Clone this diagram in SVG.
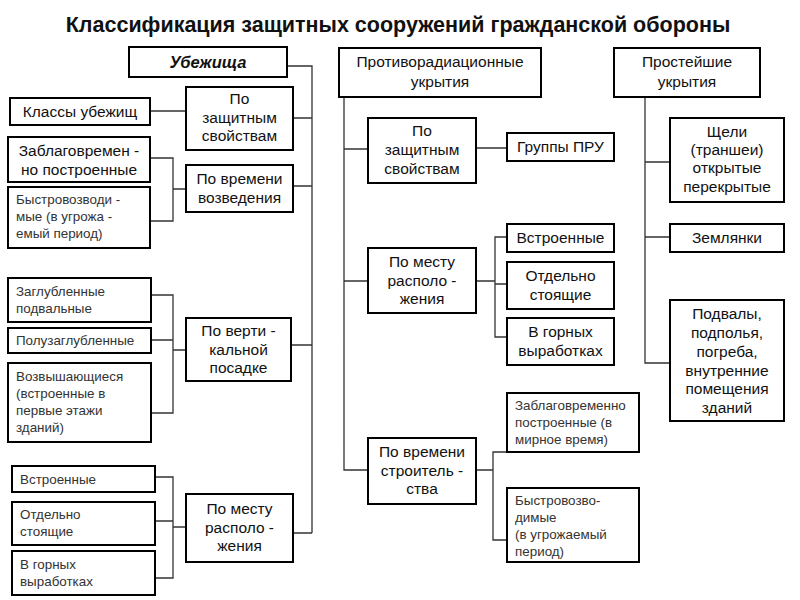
<svg xmlns="http://www.w3.org/2000/svg" width="800" height="600" viewBox="0 0 800 600">
<style>
rect{fill:#fff;stroke:#000;stroke-width:2}
text{font-family:"Liberation Sans",Arial,sans-serif;font-size:15.5px;fill:#111}
.c{text-anchor:middle}
.s{font-size:13.4px;fill:#333}
.ln{fill:none;stroke:#333;stroke-width:1.3}
</style>
<rect x="0" y="0" width="800" height="600" style="fill:#fff;stroke:none"/>
<text x="398" y="32" class="c" style="font-size:21.5px;font-weight:bold">Классификация защитных сооружений гражданской обороны</text>
<g id="connectors" class="ln">
<path d="M287 66H312V533"/>
<path d="M293 118H312M150 111H186M293 186H312M150 158H173V221H150M173 189H186M291 345H312M151 295H173V413H151M151 340H173M173 350H186M155 477H173V578H155M155 521H173M173 527H186M293 533H312"/>
<path d="M344 97V470H368M344 149H368M476 148H507M344 281H368M476 281H495M507 237H495V337H507M495 284H507M476 470H493M507 452H493V540H507"/>
<path d="M645 97V363H670M645 162H670M645 237H670"/>
</g>
<g id="ubezh"><rect x="129" y="47" width="158" height="30"/><text x="208" y="68" class="c" style="font-weight:bold;font-style:italic;font-size:16.5px">Убежища</text></g>
<g id="u1"><rect x="186" y="87" width="107" height="63"/><text class="c" x="239.5" y="104">По</text><text class="c" x="239.5" y="123">защитным</text><text class="c" x="239.5" y="141">свойствам</text></g>
<g id="u1a"><rect x="10" y="98" width="140" height="27"/><text class="c" x="80" y="117">Классы убежищ</text></g>
<g id="u2"><rect x="186" y="165" width="107" height="47"/><text class="c" x="239.5" y="184">По времени</text><text class="c" x="239.5" y="203">возведения</text></g>
<g id="u2a"><rect x="8" y="137" width="142" height="45"/><text class="c" x="79" y="156">Заблаговремен -</text><text class="c" x="79" y="175">но построенные</text></g>
<g id="u2b"><rect x="8" y="187" width="142" height="61"/><text class="s" x="16" y="204">Быстровозводи -</text><text class="s" x="16" y="221">мые (в угрожа -</text><text class="s" x="16" y="238">емый период)</text></g>
<g id="u3"><rect x="186" y="318" width="105" height="63"/><text class="c" x="238.5" y="336">По верти -</text><text class="c" x="238.5" y="355">кальной</text><text class="c" x="238.5" y="373">посадке</text></g>
<g id="u3a"><rect x="8" y="278" width="143" height="44"/><text class="s" x="16" y="296">Заглубленные</text><text class="s" x="16" y="313">подвальные</text></g>
<g id="u3b"><rect x="8" y="328" width="143" height="25"/><text class="s" x="16" y="345">Полузаглубленные</text></g>
<g id="u3c"><rect x="8" y="363" width="143" height="79"/><text class="s" x="16" y="381">Возвышающиеся</text><text class="s" x="16" y="398">(встроенные в</text><text class="s" x="16" y="415">первые этажи</text><text class="s" x="16" y="432">зданий)</text></g>
<g id="u4"><rect x="186" y="494" width="107" height="68"/><text class="c" x="239.5" y="514">По месту</text><text class="c" x="239.5" y="533">располо -</text><text class="c" x="239.5" y="551">жения</text></g>
<g id="u4a"><rect x="12" y="466" width="143" height="26"/><text class="s" x="20" y="484">Встроенные</text></g>
<g id="u4b"><rect x="12" y="502" width="143" height="43"/><text class="s" x="20" y="519">Отдельно</text><text class="s" x="20" y="536">стоящие</text></g>
<g id="u4c"><rect x="12" y="551" width="143" height="44"/><text class="s" x="20" y="569">В горных</text><text class="s" x="20" y="586">выработках</text></g>
<g id="pru"><rect x="339" y="48" width="202" height="49"/><text class="c" x="440" y="67">Противорадиационные</text><text class="c" x="440" y="87">укрытия</text></g>
<g id="p1"><rect x="368" y="118" width="108" height="65"/><text class="c" x="422" y="136">По</text><text class="c" x="422" y="155">защитным</text><text class="c" x="422" y="174">свойствам</text></g>
<g id="p1a"><rect x="507" y="133" width="107" height="28"/><text class="c" x="560.5" y="152">Группы ПРУ</text></g>
<g id="p2"><rect x="368" y="248" width="108" height="65"/><text class="c" x="422" y="267">По месту</text><text class="c" x="422" y="286">располо -</text><text class="c" x="422" y="304">жения</text></g>
<g id="p2a"><rect x="507" y="224" width="107" height="28"/><text class="c" x="560.5" y="243">Встроенные</text></g>
<g id="p2b"><rect x="507" y="262" width="107" height="47"/><text class="c" x="560.5" y="281">Отдельно</text><text class="c" x="560.5" y="300">стоящие</text></g>
<g id="p2c"><rect x="507" y="318" width="107" height="47"/><text class="c" x="560.5" y="337">В горных</text><text class="c" x="560.5" y="356">выработках</text></g>
<g id="p3"><rect x="368" y="438" width="108" height="66"/><text class="c" x="422" y="457">По времени</text><text class="c" x="422" y="476">строитель -</text><text class="c" x="422" y="494">ства</text></g>
<g id="p3a"><rect x="507" y="393" width="132" height="59"/><text class="s" x="515" y="410">Заблаговременно</text><text class="s" x="515" y="427">построенные (в</text><text class="s" x="515" y="444">мирное время)</text></g>
<g id="p3b"><rect x="507" y="488" width="132" height="74"/><text class="s" x="515" y="505">Быстровозво-</text><text class="s" x="515" y="522">димые</text><text class="s" x="515" y="539">(в угрожаемый</text><text class="s" x="515" y="556">период)</text></g>
<g id="pr"><rect x="614" y="48" width="146" height="49"/><text class="c" x="687" y="67">Простейшие</text><text class="c" x="687" y="87">укрытия</text></g>
<g id="r1"><rect x="670" y="118" width="114" height="84"/><text class="c" x="727" y="137">Щели</text><text class="c" x="727" y="155">(траншеи)</text><text class="c" x="727" y="173">открытые</text><text class="c" x="727" y="192">перекрытые</text></g>
<g id="r2"><rect x="670" y="224" width="114" height="28"/><text class="c" x="727" y="243">Землянки</text></g>
<g id="r3"><rect x="670" y="300" width="114" height="121"/><text class="c" x="727" y="319">Подвалы,</text><text class="c" x="727" y="338">подполья,</text><text class="c" x="727" y="357">погреба,</text><text class="c" x="727" y="376">внутренние</text><text class="c" x="727" y="394">помещения</text><text class="c" x="727" y="413">зданий</text></g>
</svg>
